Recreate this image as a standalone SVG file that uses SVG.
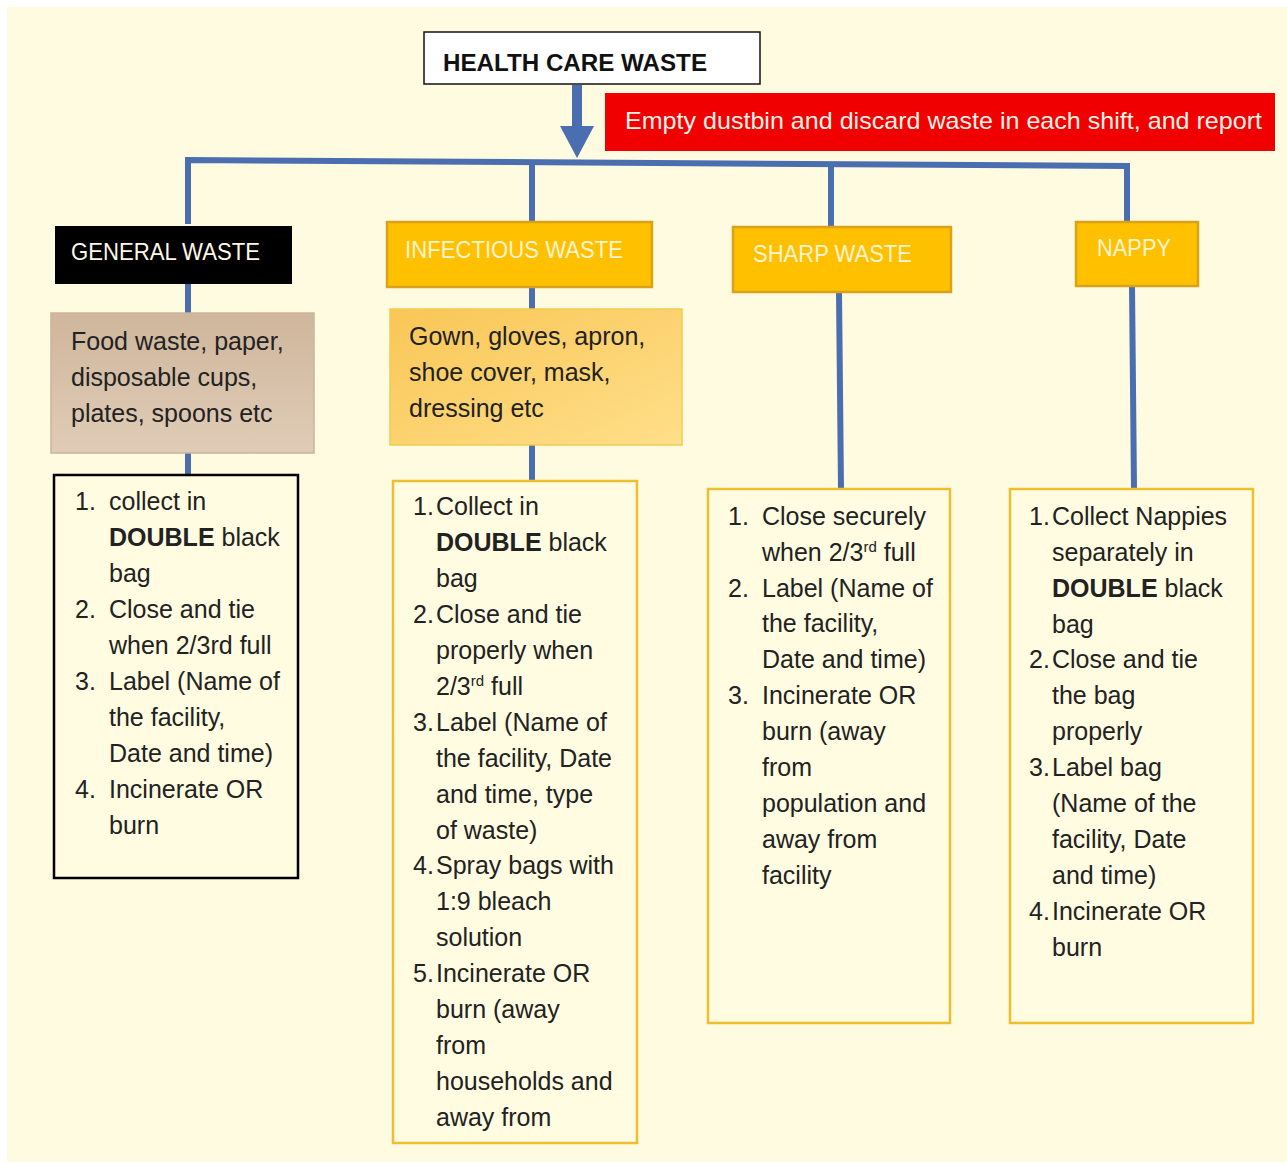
<svg xmlns="http://www.w3.org/2000/svg" width="1287" height="1164" viewBox="0 0 1287 1164">
<style>
.t{font-family:"Liberation Sans",Arial,sans-serif;font-size:25px;fill:#222}
.h{font-family:"Liberation Sans",Arial,sans-serif;font-size:24px}
.b{font-weight:bold}
.c{stroke:#4A6EAF;stroke-width:6;fill:none}
.gold{fill:#FFC000;stroke:#D9A21A;stroke-width:2.5}
.list{fill:#FFFCE1;stroke:#EDBE2E;stroke-width:2.5}
</style>
<defs>
<linearGradient id="tan" x1="0" y1="0" x2="0" y2="1">
<stop offset="0" stop-color="#CFB69C"/><stop offset="1" stop-color="#E0CCB7"/>
</linearGradient>
<linearGradient id="lg" x1="0" y1="0" x2="1" y2="1">
<stop offset="0" stop-color="#F9C656"/><stop offset="1" stop-color="#FFDF8A"/>
</linearGradient>
</defs>
<rect x="0" y="0" width="1287" height="1164" fill="#FFFFFF"/>
<rect x="7" y="7" width="1280" height="1155" fill="#FFFBE0"/>

<g id="connectors">
<path d="M577 85 V130" stroke="#4A6EAF" stroke-width="10" fill="none"/>
<polygon points="560,126 594,126 577,158" fill="#4A6EAF"/>
<path class="c" d="M188 224 V160 L1127 166 V222"/>
<path class="c" d="M532 162 V222"/>
<path class="c" d="M831 164 V226"/>
<path class="c" d="M188 284 V313"/>
<path class="c" d="M188 453 V475"/>
<path class="c" d="M532 287 V309"/>
<path class="c" d="M532 445 V481"/>
<path class="c" d="M839 292 L841 489"/>
<path class="c" d="M1132 286 L1134 489"/>
</g>

<g id="health-care-waste">
<rect x="424" y="32" width="336" height="52" fill="#FFFFFF" stroke="#111" stroke-width="1.5"/>
<text class="h b" x="443" y="71" textLength="264" lengthAdjust="spacingAndGlyphs" font-size="26" fill="#111">HEALTH CARE WASTE</text>
</g>

<g id="note">
<rect x="605" y="93" width="670" height="58" fill="#F00000"/>
<text class="h" x="625" y="129" textLength="637" lengthAdjust="spacingAndGlyphs" fill="#FFF3E8">Empty dustbin and discard waste in each shift, and report</text>
</g>

<g id="general-waste">
<rect x="55" y="226" width="237" height="58" fill="#000"/>
<text class="h" x="71" y="260" textLength="189" lengthAdjust="spacingAndGlyphs" fill="#FFF8E8">GENERAL WASTE</text>
</g>
<g id="infectious-waste">
<rect class="gold" x="387" y="222" width="265" height="65"/>
<text class="h" x="405" y="258" textLength="218" lengthAdjust="spacingAndGlyphs" fill="#FFF4D2">INFECTIOUS WASTE</text>
</g>
<g id="sharp-waste">
<rect class="gold" x="733" y="227" width="218" height="65"/>
<text class="h" x="753" y="262" textLength="159" lengthAdjust="spacingAndGlyphs" fill="#FFF4D2">SHARP WASTE</text>
</g>
<g id="nappy">
<rect class="gold" x="1076" y="222" width="122" height="64"/>
<text class="h" x="1097" y="256" textLength="74" lengthAdjust="spacingAndGlyphs" fill="#FFF4D2">NAPPY</text>
</g>

<g id="general-items">
<rect x="51" y="313" width="263" height="140" fill="url(#tan)" stroke="#C9B49E" stroke-width="1.5"/>
<text class="t" x="71" y="350">Food waste, paper,</text>
<text class="t" x="71" y="386">disposable cups,</text>
<text class="t" x="71" y="422">plates, spoons etc</text>
</g>
<g id="infectious-items">
<rect x="390" y="309" width="292" height="136" fill="url(#lg)" stroke="#F2CB50" stroke-width="1.5"/>
<text class="t" x="409" y="345">Gown, gloves, apron,</text>
<text class="t" x="409" y="381">shoe cover, mask,</text>
<text class="t" x="409" y="417">dressing etc</text>
</g>

<g id="general-steps">
<rect x="54" y="475" width="244" height="403" fill="#FFFCE1" stroke="#000" stroke-width="2.5"/>
<text class="t" x="75" y="510">1.</text><text class="t" x="109" y="510">collect in</text>
<text class="t" x="109" y="546"><tspan class="b">DOUBLE</tspan> black</text>
<text class="t" x="109" y="582">bag</text>
<text class="t" x="75" y="618">2.</text><text class="t" x="109" y="618">Close and tie</text>
<text class="t" x="109" y="654">when 2/3rd full</text>
<text class="t" x="75" y="690">3.</text><text class="t" x="109" y="690">Label (Name of</text>
<text class="t" x="109" y="726">the facility,</text>
<text class="t" x="109" y="762">Date and time)</text>
<text class="t" x="75" y="798">4.</text><text class="t" x="109" y="798">Incinerate OR</text>
<text class="t" x="109" y="834">burn</text>
</g>

<g id="infectious-steps">
<rect class="list" x="393" y="481" width="244" height="662"/>
<text class="t" x="413" y="515">1.</text><text class="t" x="436" y="515">Collect in</text>
<text class="t" x="436" y="551"><tspan class="b">DOUBLE</tspan> black</text>
<text class="t" x="436" y="587">bag</text>
<text class="t" x="413" y="623">2.</text><text class="t" x="436" y="623">Close and tie</text>
<text class="t" x="436" y="659">properly when</text>
<text class="t" x="436" y="695">2/3<tspan font-size="15" dy="-9">rd</tspan><tspan dy="9"> full</tspan></text>
<text class="t" x="413" y="731">3.</text><text class="t" x="436" y="731">Label (Name of</text>
<text class="t" x="436" y="767">the facility, Date</text>
<text class="t" x="436" y="803">and time, type</text>
<text class="t" x="436" y="839">of waste)</text>
<text class="t" x="413" y="874">4.</text><text class="t" x="436" y="874">Spray bags with</text>
<text class="t" x="436" y="910">1:9 bleach</text>
<text class="t" x="436" y="946">solution</text>
<text class="t" x="413" y="982">5.</text><text class="t" x="436" y="982">Incinerate OR</text>
<text class="t" x="436" y="1018">burn (away</text>
<text class="t" x="436" y="1054">from</text>
<text class="t" x="436" y="1090">households and</text>
<text class="t" x="436" y="1126">away from</text>
</g>

<g id="sharp-steps">
<rect class="list" x="708" y="489" width="242" height="534"/>
<text class="t" x="728" y="525">1.</text><text class="t" x="762" y="525">Close securely</text>
<text class="t" x="762" y="561">when 2/3<tspan font-size="15" dy="-9">rd</tspan><tspan dy="9"> full</tspan></text>
<text class="t" x="728" y="597">2.</text><text class="t" x="762" y="597">Label (Name of</text>
<text class="t" x="762" y="632">the facility,</text>
<text class="t" x="762" y="668">Date and time)</text>
<text class="t" x="728" y="704">3.</text><text class="t" x="762" y="704">Incinerate OR</text>
<text class="t" x="762" y="740">burn (away</text>
<text class="t" x="762" y="776">from</text>
<text class="t" x="762" y="812">population and</text>
<text class="t" x="762" y="848">away from</text>
<text class="t" x="762" y="884">facility</text>
</g>

<g id="nappy-steps">
<rect class="list" x="1010" y="489" width="243" height="534"/>
<text class="t" x="1029" y="525">1.</text><text class="t" x="1052" y="525">Collect Nappies</text>
<text class="t" x="1052" y="561">separately in</text>
<text class="t" x="1052" y="597"><tspan class="b">DOUBLE</tspan> black</text>
<text class="t" x="1052" y="633">bag</text>
<text class="t" x="1029" y="668">2.</text><text class="t" x="1052" y="668">Close and tie</text>
<text class="t" x="1052" y="704">the bag</text>
<text class="t" x="1052" y="740">properly</text>
<text class="t" x="1029" y="776">3.</text><text class="t" x="1052" y="776">Label bag</text>
<text class="t" x="1052" y="812">(Name of the</text>
<text class="t" x="1052" y="848">facility, Date</text>
<text class="t" x="1052" y="884">and time)</text>
<text class="t" x="1029" y="920">4.</text><text class="t" x="1052" y="920">Incinerate OR</text>
<text class="t" x="1052" y="956">burn</text>
</g>
</svg>
